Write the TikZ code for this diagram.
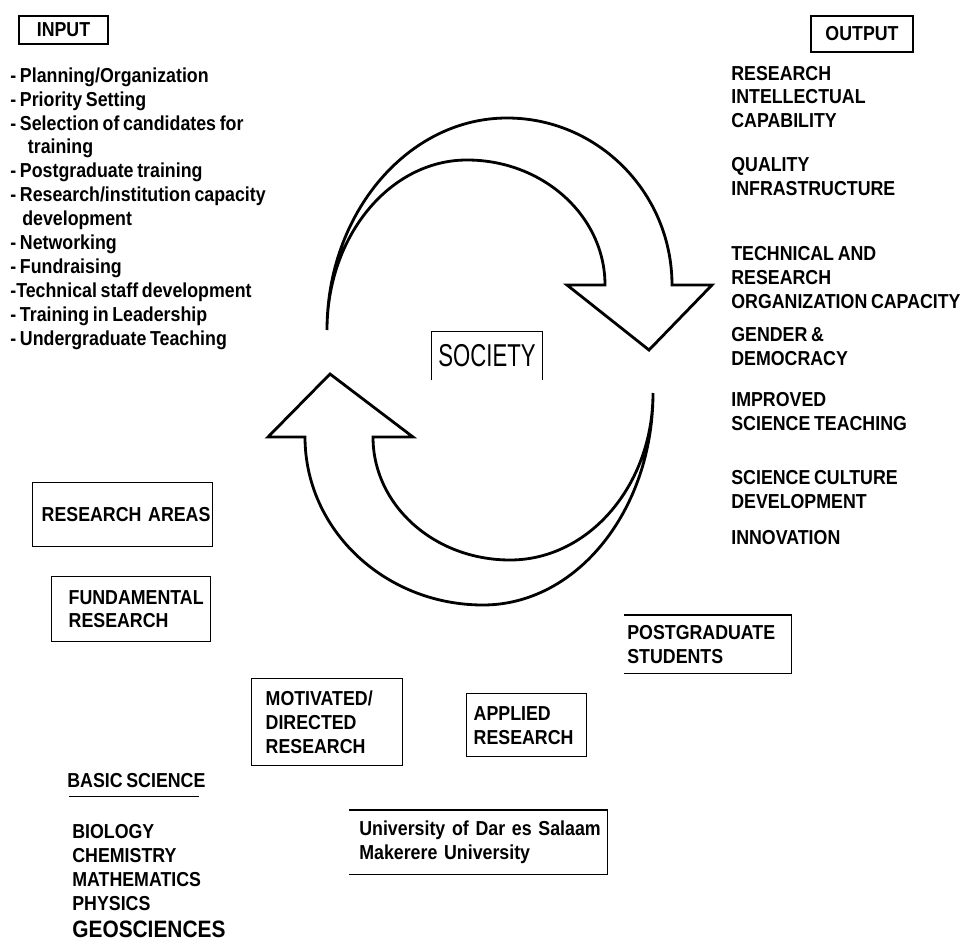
\documentclass[tikz,border=0pt]{standalone}
\usepackage{fontspec}
\setmainfont{Liberation Sans}[FakeStretch=0.88, WordSpace=0.75]
\newfontfamily\societyfont{Liberation Sans}[FakeStretch=0.7]

\begin{document}
\begin{tikzpicture}[x=0.02cm, y=-0.02cm,
    every node/.style={font={\bfseries\fontsize{11.5}{13.6}\selectfont}},
    headbox/.style={draw, line width=0.8pt, inner sep=0pt},
    areabox/.style={draw, line width=0.8pt, anchor=north west, align=left, inner ysep=0pt},
    openbox/.style={anchor=north west, align=left, inner ysep=0pt},
    listtext/.style={anchor=west, align=left, inner sep=0pt},
    cyclearrow/.style={line width=1.6pt, line join=miter}]
    \useasboundingbox (0,0) rectangle (973,942);

    \node[headbox, minimum width=1.78cm, minimum height=0.56cm] (input) at (63.5,30) {INPUT};
    \node[headbox, minimum width=2.04cm, minimum height=0.72cm] (output) at (862,34) {OUTPUT};

    \node[listtext] (inputlist) at (10,208.5) {- Planning/Organization\\- Priority Setting\\- Selection of candidates for\\\hspace*{10pt}training\\- Postgraduate training\\- Research/institution capacity\\\hspace*{6.8pt}development\\- Networking\\- Fundraising\\-Technical staff development\\- Training in Leadership\\- Undergraduate Teaching};

    \node[listtext] (capability) at (731,97) {RESEARCH\\INTELLECTUAL\\CAPABILITY};
    \node[listtext] (quality) at (731,176.5) {QUALITY\\INFRASTRUCTURE};
    \node[listtext] (orgcapacity) at (731,277.5) {TECHNICAL AND\\RESEARCH\\ORGANIZATION CAPACITY};
    \node[listtext] (gender) at (731,346.5) {GENDER \&\\DEMOCRACY};
    \node[listtext] (teaching) at (731,411.5) {IMPROVED\\SCIENCE TEACHING};
    \node[listtext] (culture) at (731,489.5) {SCIENCE CULTURE\\DEVELOPMENT};
    \node[listtext] (innovation) at (731,538) {INNOVATION};

    \node[font={\societyfont\fontsize{18}{20}\selectfont}, minimum width=2.2cm, minimum height=0.96cm, inner sep=0pt] (society) at (487,356) {SOCIETY};
    \draw[line width=0.6pt] (society.south west) -- (society.north west) -- (society.north east) -- (society.south east);

    \draw[cyclearrow] (327,330) .. controls (327,213) and (408,118) .. (507,118) .. controls (598,118) and (672,193) .. (672,285) -- (712,285) -- (649,350) -- (567,285) -- (605,285) .. controls (605,216) and (543,160) .. (467,160) .. controls (390,160) and (327,236) .. (327,330) -- cycle;
    \draw[cyclearrow] (653,393) .. controls (653,510) and (577,605) .. (483,605) .. controls (385,605) and (305,530) .. (305,437) -- (268,437) -- (330,374) -- (413,437) -- (373,437) .. controls (373,505) and (434,560) .. (510,560) .. controls (589,560) and (653,485) .. (653,393) -- cycle;

    \node[areabox, inner xsep=0.18cm, text width=3.24cm, minimum height=1.28cm] (areas) at (32,482) {\mbox{RESEARCH AREAS}};
    \node[areabox, inner xsep=0.34cm, text width=2.5cm, minimum height=1.3cm] (fundamental) at (51,576) {\mbox{FUNDAMENTAL}\\RESEARCH};
    \node[areabox, inner xsep=0.28cm, text width=2.46cm, minimum height=1.74cm] (motivated) at (251,678) {MOTIVATED/\\DIRECTED\\RESEARCH};
    \node[areabox, inner xsep=0.14cm, text width=2.12cm, minimum height=1.26cm] (applied) at (466,693) {APPLIED\\RESEARCH};

    \node[openbox, inner xsep=0.06cm, text width=3.22cm, minimum height=1.16cm] (postgrad) at (624,615) {POSTGRADUATE\\STUDENTS};
    \draw[line width=0.8pt] (postgrad.north west) -- (postgrad.north east) -- (postgrad.south east) -- (postgrad.south west);
    \node[openbox, inner xsep=0.2cm, text width=4.76cm, minimum height=1.28cm] (university) at (349,810) {\mbox{University of Dar es Salaam}\\Makerere University};
    \draw[line width=0.8pt] (university.north west) -- (university.north east) -- (university.south east) -- (university.south west);

    \node[listtext] (basic) at (67,781) {BASIC SCIENCE};
    \draw[line width=0.8pt] ([xshift=0.04cm, yshift=-0.16cm]basic.south west) -- ([xshift=-0.14cm, yshift=-0.16cm]basic.south east);
    \node[listtext] (sciences) at (72,867.5) {BIOLOGY\\CHEMISTRY\\MATHEMATICS\\PHYSICS};
    \node[listtext, font={\bfseries\fontsize{13.5}{16}\selectfont}] (geo) at (72,929) {GEOSCIENCES};
\end{tikzpicture}
\end{document}
